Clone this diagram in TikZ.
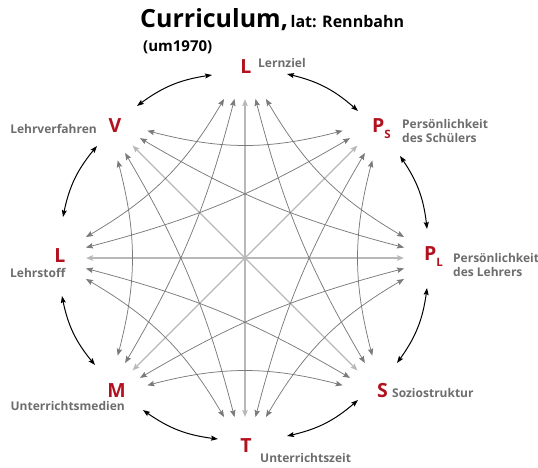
\documentclass[tikz,border=0pt]{standalone}
\usepackage{fontspec}
\setmainfont{Open Sans}
\usetikzlibrary{arrows.meta,calc,bending}
\definecolor{cred}{HTML}{B2121F}
\definecolor{clab}{HTML}{6D6D6D}
\definecolor{cline}{HTML}{7A7A7A}
\definecolor{cdiam}{HTML}{B8B8B8}
\tikzset{
 letter/.style={text=cred,font=\fontsize{19.5}{19.5}\selectfont\bfseries,inner sep=0pt},
 lab/.style={text=clab,font=\fontsize{12}{14}\selectfont\bfseries,inner sep=0pt,align=left},
 labr/.style={text=clab,font=\fontsize{12}{14}\selectfont\bfseries,inner sep=0pt,align=right},
 grayarc/.style={draw=cline,line width=0.75pt,{Stealth[length=7pt,width=5.5pt,inset=1.2pt]}-{Stealth[length=7pt,width=5.5pt,inset=1.2pt]}},
 diam/.style={draw=cdiam,line width=1.2pt,{Stealth[length=7pt,width=5.5pt,inset=1.2pt]}-{Stealth[length=7pt,width=5.5pt,inset=1.2pt]}},
 blackarr/.style={draw=black,line width=1pt,{Stealth[length=7pt,width=5pt,inset=1.2pt]}-{Stealth[length=7pt,width=5pt,inset=1.2pt]}},
}
\newcommand\mysub[1]{\raisebox{-6pt}{\fontsize{11.5}{11.5}\selectfont #1}}
\begin{document}
\begin{tikzpicture}[x=1pt,y=1pt]
\useasboundingbox (0,0) rectangle (538,-467);
% title
\node[anchor=base west,inner sep=0pt,font=\bfseries] (title) at (140,-27)
  {{\fontsize{25}{25}\selectfont Curriculum,} {\fontsize{16}{16}\selectfont lat: Rennbahn}};
\node[anchor=base west,inner sep=0pt,font=\fontsize{15}{15}\selectfont\bfseries] (year) at (143,-51) {(um1970)};
% letters
\node[letter,anchor=base] (n0) at (246,-73) {L};
\node[letter,anchor=base west] (n1) at (372,-132) {P\mysub{S}};
\node[letter,anchor=base west] (n2) at (424,-260) {P\mysub{L}};
\node[letter,anchor=base west] (n3) at (377,-397) {S};
\node[letter,anchor=base] (n4) at (246,-452) {T};
\node[letter,anchor=base east] (n5) at (126,-397) {M};
\node[letter,anchor=base] (n6) at (60,-262) {L};
\node[letter,anchor=base] (n7) at (115,-132) {V};
% labels
\node[lab,anchor=base west] (l0) at (258,-67) {Lernziel};
\node[lab,anchor=base west] (l1) at (402,-142) {Persönlichkeit\\des Schülers};
\node[lab,anchor=base west] (l2) at (453,-276) {Persönlichkeit\\des Lehrers};
\node[lab,anchor=base west] (l3) at (392,-397) {Soziostruktur};
\node[lab,anchor=base west] (l4) at (260,-462) {Unterrichtszeit};
\node[labr,anchor=base east] (l5) at (125,-410) {Unterrichtsmedien};
\node[lab,anchor=base west] (l6) at (10,-277) {Lehrstoff};
\node[labr,anchor=base east] (l7) at (97,-133) {Lehrverfahren};
% gray connectors
\coordinate (C) at (245,-258);
\foreach \i in {0,...,7}{
 \foreach \k in {0,...,4}{
   \coordinate (g\i-\k) at ($(C)+({90-45*\i}:159)+({-45*\i}:{(\k-2)*10.5})$);
 }
}
\foreach \i in {0,...,3}{
  \pgfmathtruncatemacro\j{\i+4}
  \draw[diam] (g\i-2) -- (g\j-2);
}
\foreach \i in {0,...,7}{
 \foreach \d/\b in {2/15,3/8}{
   \pgfmathtruncatemacro\j{mod(\i+\d,8)}
   \pgfmathtruncatemacro\ka{6-\d}
   \pgfmathtruncatemacro\kb{\d-2}
   \draw[grayarc] (g\i-\ka) to[bend right=\b] (g\j-\kb);
 }
}
% black connectors
\coordinate (b1s) at (287,-74);  \coordinate (b1e) at (358,-111);
\coordinate (b2s) at (400,-156); \coordinate (b2e) at (427,-229);
\coordinate (b3s) at (427,-288); \coordinate (b3e) at (397,-363);
\coordinate (b4s) at (358,-400); \coordinate (b4e) at (287,-436);
\coordinate (b5s) at (218,-439); \coordinate (b5e) at (143,-410);
\coordinate (b6s) at (95,-365);  \coordinate (b6e) at (62,-296);
\coordinate (b7s) at (63,-217);  \coordinate (b7e) at (97,-146);
\coordinate (b8s) at (137,-106); \coordinate (b8e) at (212,-75);
\foreach \n in {1,...,8}{
  \draw[blackarr] (b\n s) to[bend left=15] (b\n e);
}
\end{tikzpicture}
\end{document}
